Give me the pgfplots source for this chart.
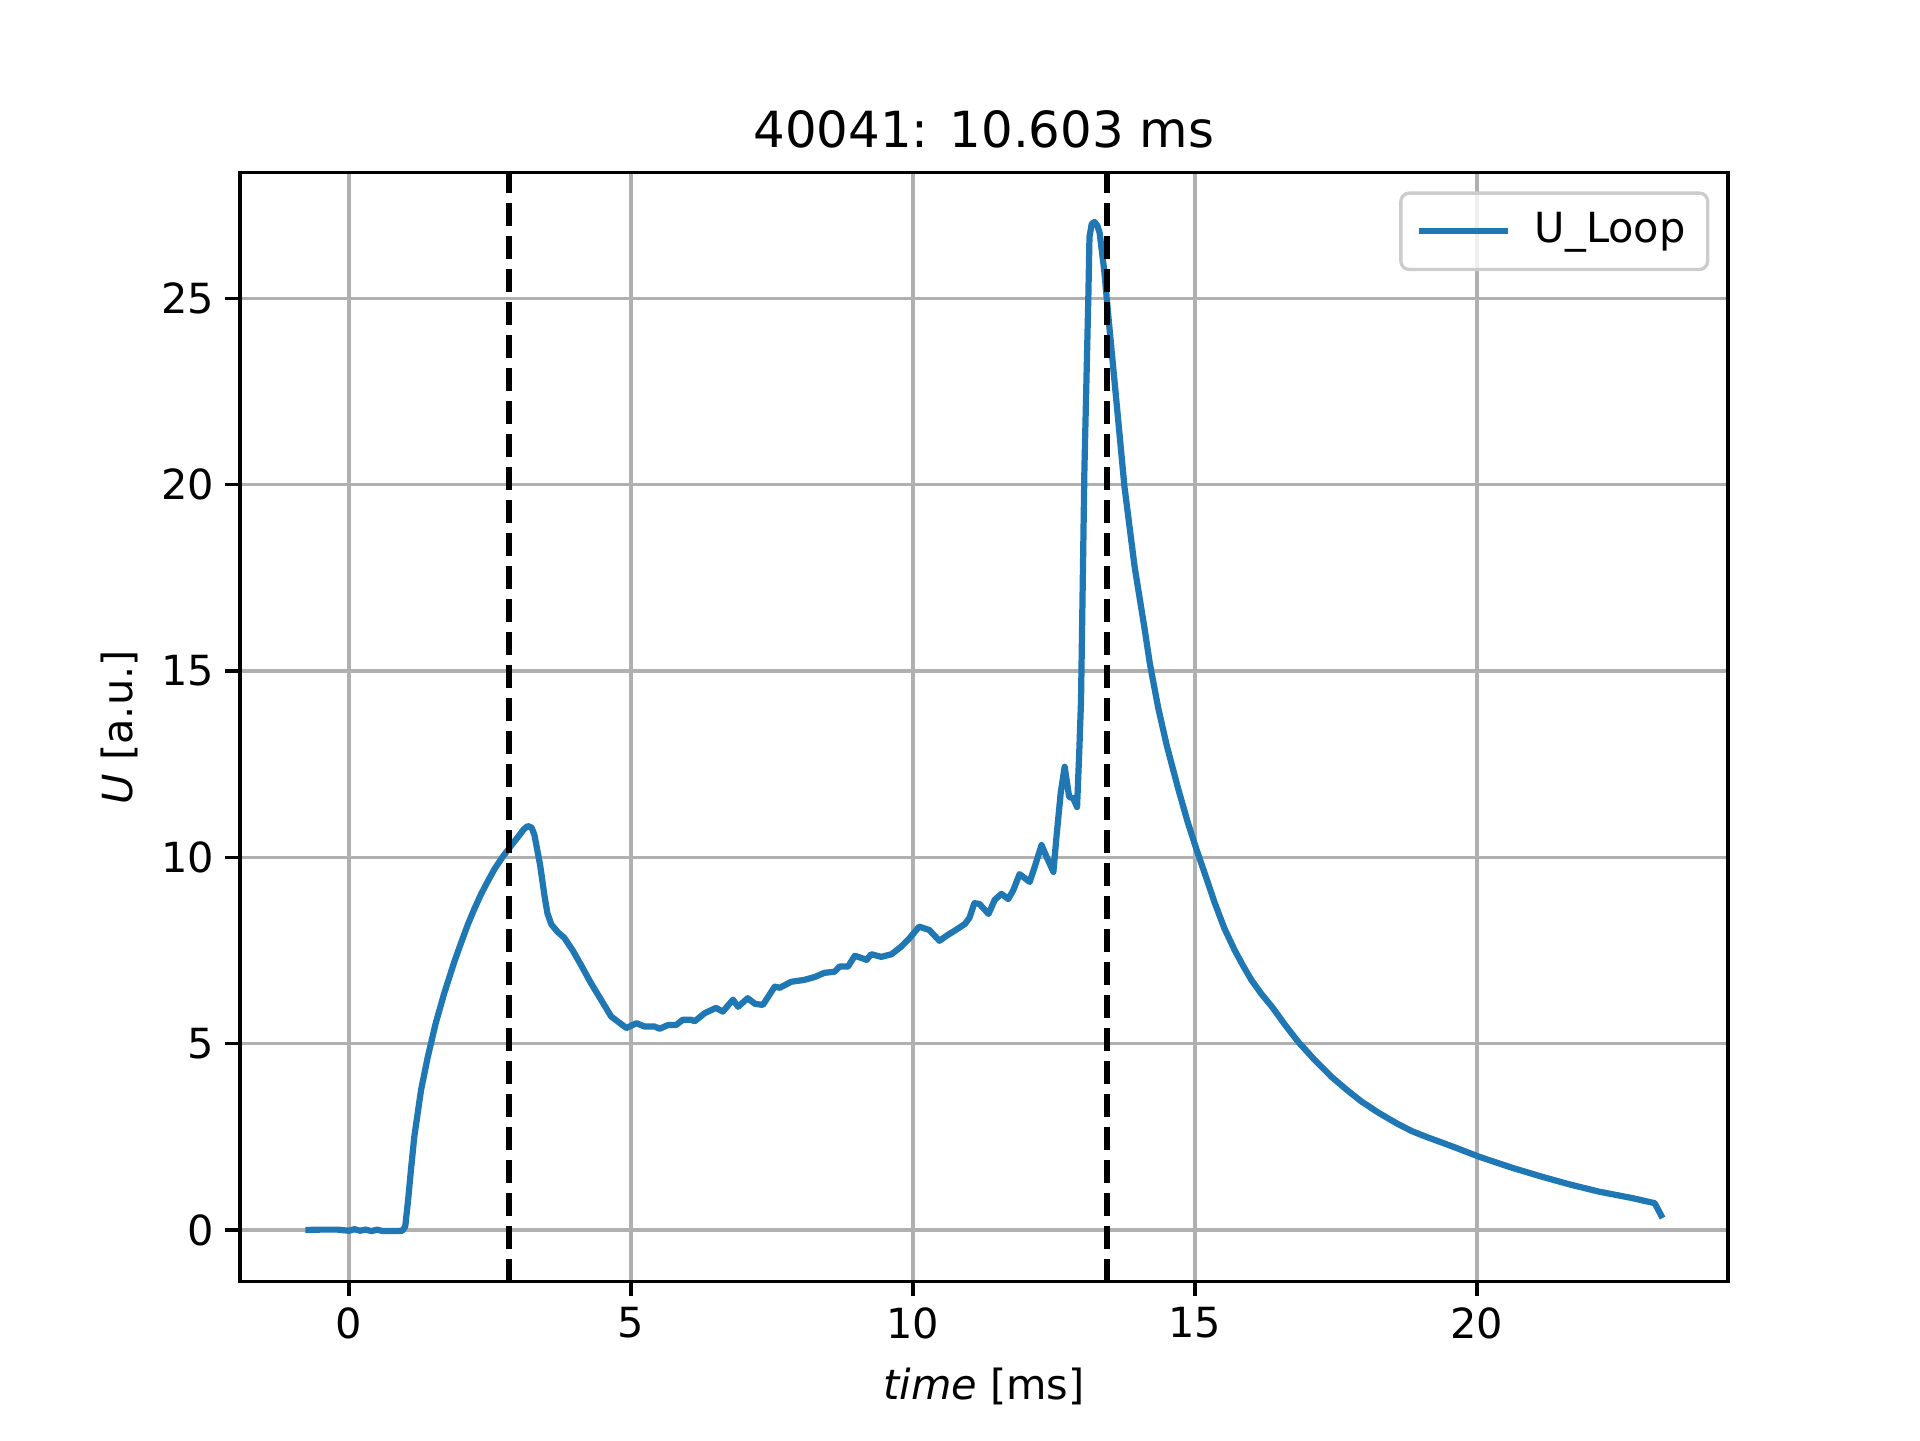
\documentclass[border=0pt]{standalone}
\usepackage{fontspec}
\setmainfont{DejaVu Sans}
\usepackage{pgfplots}
\pgfplotsset{compat=1.18}
\definecolor{c0}{HTML}{1F77B4}
\definecolor{gridc}{HTML}{B0B0B0}
\definecolor{legc}{HTML}{CCCCCC}
\pgfplotstableread{
x y
-0.77 0.0
-0.5 0.01
-0.2 0.01
0.0 -0.02
0.1 0.02
0.2 -0.02
0.3 0.01
0.4 -0.03
0.5 0.01
0.6 -0.03
0.8 -0.03
0.95 -0.02
1.0 0.1
1.05 0.8
1.1 1.6
1.16 2.5
1.28 3.76
1.40 4.65
1.54 5.55
1.69 6.35
1.87 7.2
2.00 7.75
2.11 8.2
2.22 8.6
2.34 9.0
2.46 9.35
2.58 9.68
2.72 10.0
2.87 10.3
3.00 10.55
3.10 10.75
3.17 10.84
3.24 10.8
3.29 10.6
3.34 10.2
3.39 9.8
3.47 8.95
3.52 8.5
3.59 8.2
3.70 8.0
3.82 7.84
3.97 7.5
4.12 7.1
4.29 6.63
4.47 6.18
4.65 5.73
4.92 5.42
5.10 5.55
5.24 5.46
5.42 5.46
5.51 5.40
5.66 5.50
5.80 5.50
5.92 5.64
6.07 5.64
6.13 5.60
6.31 5.82
6.51 5.96
6.63 5.86
6.81 6.18
6.90 5.99
7.07 6.22
7.20 6.07
7.34 6.04
7.55 6.53
7.64 6.50
7.84 6.66
8.07 6.71
8.26 6.79
8.43 6.90
8.61 6.93
8.70 7.07
8.85 7.07
8.97 7.36
9.18 7.25
9.26 7.40
9.44 7.33
9.62 7.40
9.79 7.60
9.94 7.83
10.11 8.14
10.29 8.05
10.47 7.76
10.62 7.92
10.74 8.03
10.92 8.21
11.00 8.37
11.09 8.77
11.18 8.75
11.34 8.48
11.45 8.86
11.57 9.02
11.69 8.88
11.78 9.12
11.89 9.55
12.07 9.34
12.16 9.75
12.28 10.33
12.37 10.01
12.49 9.61
12.54 10.47
12.62 11.73
12.69 12.43
12.77 11.62
12.84 11.59
12.91 11.35
12.95 12.88
12.98 14.2
13.04 20.4
13.11 25.05
13.13 26.65
13.17 27.0
13.22 27.05
13.27 26.95
13.31 26.76
13.39 25.77
13.47 24.43
13.61 22.2
13.75 19.95
13.93 17.8
14.10 16.2
14.20 15.2
14.35 14.0
14.50 13.0
14.71 11.8
14.87 10.95
15.03 10.2
15.20 9.45
15.35 8.78
15.52 8.1
15.70 7.52
15.85 7.1
16.00 6.71
16.18 6.33
16.36 6.0
16.60 5.5
16.83 5.05
17.10 4.6
17.42 4.11
17.70 3.75
17.95 3.45
18.25 3.15
18.59 2.85
18.85 2.65
19.10 2.50
19.55 2.25
20.03 1.97
20.60 1.68
21.15 1.43
21.65 1.22
22.16 1.03
22.74 0.86
23.15 0.72
23.29 0.32
}\uloop
\begin{document}
\begin{tikzpicture}
\path[use as bounding box] (-0.8in,-0.528in) rectangle (5.6in,4.272in);
\begin{axis}[
  at={(0,0)}, anchor=south west,
  scale only axis, width=4.96in, height=3.696in,
  xmin=-1.93, xmax=24.45, ymin=-1.385, ymax=28.37,
  xtick={0,5,10,15,20}, ytick={0,5,10,15,20,25},
  minor tick num=0,
  xtick pos=bottom, ytick pos=left,
  tick align=outside, major tick length=3.5pt,
  every tick/.style={black, line width=0.8pt},
  axis line style={line width=0.8pt},
  grid=major, major grid style={gridc, line width=0.8pt},
  /pgf/number format/assume math mode=true,
  tick label style={font=\fontsize{10}{12}\selectfont},
  xticklabel style={anchor=north, inner sep=0pt, yshift=-2.5pt},
  yticklabel style={anchor=east, inner sep=0pt, xshift=-2.5pt},
  title={40041: 10.603 ms},
  title style={font=\fontsize{12}{14}\selectfont, at={(axis description cs:0.5,1)}, anchor=base, inner sep=0pt},
  xlabel={\textit{time} [ms]},
  xlabel style={font=\fontsize{10}{12}\selectfont, at={(axis description cs:0.5,0)}, anchor=base, yshift=-28.3pt, inner sep=0pt},
  ylabel={\textit{U} [a.u.]},
  ylabel style={font=\fontsize{10}{12}\selectfont, at={(axis description cs:0,0.5)}, rotate=0, anchor=base, yshift=26pt, inner sep=0pt},
  legend style={at={(axis description cs:1,1)}, anchor=north east, xshift=-4.5pt, yshift=-4.5pt,
    draw=legc, line width=0.8pt, rounded corners=2pt, fill=white, fill opacity=0.8, text opacity=1,
    inner xsep=4.3pt, inner ysep=3.2pt,
    font=\fontsize{10}{12}\selectfont,
    nodes={inner sep=1pt, text height=7.6pt, text depth=2.4pt},
    /tikz/every odd column/.append style={column sep=5.5pt}},
  legend cell align=left,
  legend image code/.code={\draw[#1, line cap=rect] (0pt,0pt) -- (20pt,0pt);},
]
\addplot[c0, line width=1.5pt, line join=round] table[x=x, y=y] {\uloop};
\addlegendentry{U\_Loop}
\addplot[black, line width=1.5pt, dash pattern=on 5.55pt off 2.4pt, forget plot] coordinates {(2.835,-1.385) (2.835,28.37)};
\addplot[black, line width=1.5pt, dash pattern=on 5.55pt off 2.4pt, forget plot] coordinates {(13.438,-1.385) (13.438,28.37)};
\end{axis}
\end{tikzpicture}
\end{document}
